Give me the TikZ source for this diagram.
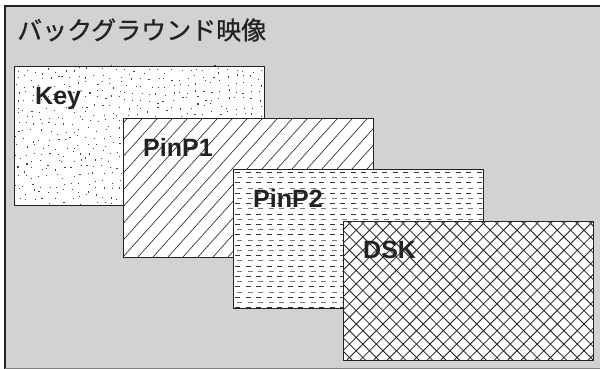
\documentclass[tikz,border=0pt]{standalone}
\usepackage{fontspec}
\setmainfont{Liberation Sans}
\newfontfamily\jpfont[FakeBold=0.8]{Noto Sans CJK JP}
\usetikzlibrary{calc}
\definecolor{bg}{HTML}{D2D2D2}
\definecolor{ink}{HTML}{222222}
\definecolor{dotink}{HTML}{444444}
\definecolor{dashdark}{HTML}{333333}
\definecolor{dashlight}{HTML}{7A7A7A}
\tikzset{
  layer/.style={fill=white, minimum width=250pt, minimum height=139pt, inner sep=0pt, outer sep=0pt, anchor=north west},
  border/.style={draw=ink, line width=0.9pt},
  lbl/.style={font=\bfseries\fontsize{25}{25}\selectfont, text=ink, anchor=base west, inner sep=0pt},
  hatch/.style={draw=ink, line width=0.6pt},
  cross/.style={draw=ink, line width=0.8pt},
  dashrow/.style={line width=1pt, dash pattern=on 5pt off 5.5pt},
}
\begin{document}
\begin{tikzpicture}[x=1pt,y=-1pt]
\useasboundingbox (0,0) rectangle (600,369);
% frame
\fill[bg] (5,6) rectangle (605,368);
\draw[ink, line width=2pt] (5,375) -- (5,6) -- (605,6);
\draw[gray, line width=1pt] (5,368) -- (605,368);
\node[font=\jpfont\fontsize{25}{25}\selectfont, text=ink, anchor=west, inner sep=0pt] (title) at (17,30) {バックグラウンド映像};

% Key layer
\node[layer] (key) at (14,66) {};
\begin{scope}
  \clip (key.north west) rectangle (key.south east);
  \pgfmathsetseed{4242}
  \foreach \gx in {0,...,32} {
    \foreach \gy in {0,...,18} {
      \pgfmathsetmacro\rx{\gx*7.8+3+rand*2.8}
      \pgfmathsetmacro\ry{\gy*7.6+3+rand*2.8+2*sin(\gx*25)}
      \fill[dotink] ($(key.north west)+(\rx,\ry)$) rectangle ++(1.15,1.15);
    }
  }
\end{scope}
\draw[border] (key.north west) rectangle (key.south east);
\node[lbl] (keyl) at ($(key.north west)+(21,39)$) {Key};

% PinP1 layer
\node[layer] (p1) at (123,118) {};
\begin{scope}
  \clip (p1.north west) rectangle (p1.south east);
  \foreach \k in {-10,...,18} {
    \draw[hatch] ($(p1.south west)+(\k*15,0)$) -- ++(140,-156);
  }
\end{scope}
\draw[border] (p1.north west) rectangle (p1.south east);
\node[lbl] (p1l) at ($(p1.north west)+(20,38)$) {PinP1};

% PinP2 layer
\node[layer] (p2) at (233,169) {};
\begin{scope}
  \clip (p2.north west) rectangle (p2.south east);
  \foreach \r in {0,...,26} {
    \pgfmathtruncatemacro\odd{mod(\r,2)}
    \ifnum\odd=0
      \draw[dashrow, draw=dashdark] ($(p2.north west)+(2,3.5+\r*5.2)$) -- ++(252,0);
    \else
      \draw[dashrow, draw=dashlight] ($(p2.north west)+(4,3.5+\r*5.2)$) -- ++(252,0);
    \fi
  }
\end{scope}
\draw[border] (p2.north west) rectangle (p2.south east);
\node[lbl] (p2l) at ($(p2.north west)+(20,38)$) {PinP2};

% DSK layer
\node[layer] (dsk) at (343,221) {};
\begin{scope}
  \clip (dsk.north west) rectangle (dsk.south east);
  \foreach \k in {-12,...,20} {
    \draw[cross] ($(dsk.south west)+(\k*13.4+4,0)$) -- ++(150,-150);
    \draw[cross] ($(dsk.north west)+(\k*13.4+4,0)$) -- ++(150,150);
  }
\end{scope}
\draw[border] (dsk.north west) rectangle (dsk.south east);
\node[lbl] (dskl) at ($(dsk.north west)+(20,37)$) {DSK};
\end{tikzpicture}
\end{document}
